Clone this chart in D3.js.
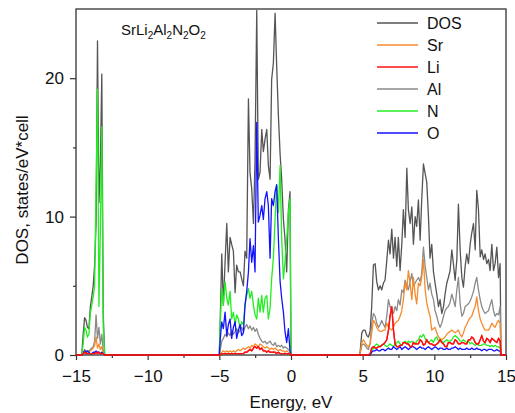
<!DOCTYPE html>
<html>
<head>
<meta charset="utf-8">
<script src="https://cdnjs.cloudflare.com/ajax/libs/d3/7.8.5/d3.min.js"></script>
<style>
  body { margin: 0; background: #fff; }
  svg { font-family: "Liberation Sans", Arial, Helvetica, sans-serif; }
</style>
</head>
<body>
<div id="chart"></div>
<script>
// energies (eV), split into the three bands that carry states
var energy1 = [-15, -14.7, -14.6, -14.5, -14.4, -14.3, -14.2, -14.1, -14.0, -13.9, -13.8, -13.7, -13.6, -13.5, -13.4, -13.3, -13.2, -13.1, -13.0];
var energy2 = [-5.0, -4.95, -4.83, -4.72, -4.60, -4.48, -4.37, -4.25, -4.14, -4.02, -3.90, -3.79, -3.67, -3.55, -3.44, -3.32, -3.21, -3.09, -2.97, -2.86,
  -2.74, -2.62, -2.51, -2.39, -2.28, -2.16, -2.04, -1.93, -1.81, -1.69, -1.58, -1.46, -1.35, -1.23, -1.11, -1.00, -0.88, -0.76, -0.65, -0.53,
  -0.42, -0.30, -0.18, -0.07, 0.0];
var energy3 = [4.75, 4.82, 4.94, 5.05, 5.17, 5.29, 5.40, 5.52, 5.63, 5.75, 5.87, 5.98, 6.10, 6.22, 6.33, 6.45, 6.56, 6.68, 6.80, 6.91,
  7.03, 7.15, 7.26, 7.38, 7.49, 7.61, 7.73, 7.84, 7.96, 8.08, 8.19, 8.31, 8.43, 8.54, 8.66, 8.77, 8.89, 9.01, 9.12, 9.24,
  9.36, 9.47, 9.59, 9.70, 9.82, 9.94, 10.05, 10.17, 10.29, 10.40, 10.52, 10.64, 10.75, 10.87, 10.98, 11.10, 11.22, 11.33, 11.45, 11.57,
  11.68, 11.80, 11.92, 12.03, 12.15, 12.26, 12.38, 12.50, 12.61, 12.73, 12.85, 12.96, 13.08, 13.20, 13.31, 13.43, 13.54, 13.66, 13.78, 13.89,
  14.01, 14.13, 14.24, 14.36, 14.48, 14.59, 14.65, 15];

// total DOS
var dos1 = [0, 0, 0, 1.5, 2.7, 2.5, 2.0, 1.9, 3.5, 4.2, 5.0, 6.5, 9.5, 22.7, 11, 13.8, 20.3, 3, 0];
var dos2 = [0, 2.0, 7.3, 3.6, 6.7, 9.5, 6.0, 8.5, 8.0, 7.5, 4.5, 6.5, 6.0, 6.0, 5.5, 5.0, 7.5, 7.0, 18.5, 13.2,
  12.0, 9.5, 14.0, 24.9, 12.7, 13.2, 16.3, 14.7, 15.6, 16.3, 13.7, 12.7, 19.9, 21.1, 24.7, 20.9, 17.3, 14.5, 12.7, 9.8,
  8.4, 6.0, 10.5, 11.8, 0];
var dos3 = [0, 0.2, 1.6, 1.8, 1.8, 1.4, 1.3, 1.7, 3.5, 6.5, 6.6, 5.3, 4.7, 5.0, 4.7, 5.2, 5.4, 6.8, 8.3, 7.3,
  9.1, 7.0, 8.5, 6.4, 8.5, 6.1, 8.0, 10.5, 8.5, 13.5, 10.5, 9.5, 10.7, 8.0, 10.0, 9.3, 11.2, 8.3, 11.2, 13.8,
  13.1, 12.5, 10.0, 7.0, 8.0, 6.0, 5.2, 4.4, 3.5, 4.0, 3.0, 3.5, 4.4, 5.2, 5.6, 6.1, 7.6, 6.6, 5.4, 6.9,
  10.9, 7.6, 5.6, 4.9, 6.4, 7.3, 6.6, 8.0, 8.8, 9.5, 7.6, 11.9, 10.5, 7.1, 7.6, 6.9, 7.3, 6.6, 6.9, 6.1,
  8.0, 6.1, 6.6, 7.8, 5.6, 6.6, 0, 0];

// Sr
var sr1 = [0, 0, 0, 0.1, 0.3, 0.2, 0.2, 0.2, 0.3, 0.4, 0.5, 0.7, 1.3, 0.5, 0.8, 0.4, 0.6, 0.1, 0];
var sr2 = [0, 0.1, 0.2, 0.3, 0.2, 0.3, 0.2, 0.3, 0.2, 0.3, 0.2, 0.3, 0.4, 0.3, 0.4, 0.5, 0.4, 0.5, 0.6, 0.5,
  0.7, 0.6, 0.8, 0.7, 0.6, 0.8, 0.7, 0.6, 0.5, 0.6, 0.5, 0.4, 0.5, 0.4, 0.5, 0.4, 0.3, 0.4, 0.3, 0.3,
  0.2, 0.3, 0.2, 0.1, 0];
var sr3 = [0, 0.1, 0.9, 1.1, 0.9, 0.7, 0.6, 0.8, 1.6, 2.5, 2.3, 2.0, 1.8, 1.7, 1.7, 1.8, 1.8, 2.3, 2.0, 1.9,
  1.8, 2.0, 2.3, 2.4, 2.5, 2.8, 3.2, 4.0, 5.2, 4.7, 6.1, 5.2, 4.0, 5.6, 4.4, 3.7, 5.2, 5.0, 5.6, 6.9,
  4.7, 3.8, 3.2, 2.8, 1.8, 1.9, 2.0, 1.6, 1.3, 1.2, 1.1, 1.2, 1.3, 1.5, 1.6, 1.7, 1.8, 1.7, 1.6, 1.7,
  1.8, 1.5, 1.3, 1.6, 2.0, 2.2, 2.5, 2.7, 2.8, 3.2, 3.5, 4.2, 3.2, 2.6, 2.3, 2.0, 1.8, 1.8, 1.8, 2.0,
  2.3, 2.1, 2.0, 2.3, 2.5, 2.3, 0, 0];

// Li
var li1 = [0, 0, 0, 0.1, 0.2, 0.1, 0.1, 0.1, 0.1, 0.1, 0.1, 0.1, 0.2, 0.1, 0.2, 0.1, 0.1, 0.1, 0];
var li2 = [0, 0, 0.1, 0.1, 0.1, 0.1, 0.1, 0.1, 0.1, 0.1, 0.1, 0.1, 0.1, 0.1, 0.1, 0.1, 0.2, 0.2, 0.3, 0.4,
  0.3, 0.5, 0.6, 0.5, 0.6, 0.4, 0.5, 0.3, 0.3, 0.2, 0.3, 0.2, 0.2, 0.2, 0.2, 0.1, 0.2, 0.1, 0.1, 0.1,
  0.1, 0.1, 0.1, 0.1, 0];
var li3 = [0, 0, 0, 0, 0, 0, 0, 0.1, 0.5, 0.6, 0.5, 0.5, 0.6, 0.6, 0.7, 0.8, 0.9, 1.1, 1.8, 2.8,
  3.5, 1.8, 0.8, 0.6, 0.6, 0.7, 0.7, 0.9, 0.9, 0.8, 0.8, 0.6, 0.6, 0.9, 0.8, 0.8, 0.8, 1.1, 1.0, 0.7,
  0.8, 1.1, 0.9, 0.8, 0.8, 0.7, 0.7, 0.8, 0.9, 1.1, 0.9, 0.8, 0.6, 0.6, 0.9, 0.9, 0.8, 0.8, 1.1, 1.0,
  0.8, 0.8, 0.9, 0.9, 0.8, 0.8, 1.1, 1.1, 1.3, 1.2, 0.9, 0.8, 0.8, 1.1, 1.4, 1.0, 0.9, 1.2, 1.1, 0.9,
  1.2, 1.1, 1.0, 0.9, 1.2, 1.0, 0, 0];

// Al
var al1 = [0, 0, 0, 0.2, 0.4, 0.3, 0.3, 0.3, 0.4, 0.5, 0.6, 1.0, 2.9, 1.2, 2.0, 0.8, 1.5, 0.3, 0];
var al2 = [0, 0.3, 1.0, 1.2, 1.5, 1.3, 1.6, 1.4, 1.8, 1.5, 1.7, 1.9, 1.6, 1.8, 2.0, 1.7, 2.0, 2.2, 1.9, 2.1,
  1.8, 2.0, 1.7, 1.9, 1.5, 1.2, 1.0, 0.9, 1.0, 0.8, 0.9, 1.0, 0.8, 0.7, 0.9, 0.6, 0.7, 0.6, 0.7, 0.5,
  0.6, 0.5, 0.4, 0.3, 0];
var al3 = [0, 0.1, 0.7, 0.8, 0.7, 0.5, 0.4, 0.8, 2.3, 3.0, 2.8, 2.3, 2.0, 2.2, 2.5, 2.2, 2.0, 2.8, 4.0, 3.5,
  3.2, 3.0, 3.5, 3.2, 4.0, 3.6, 4.7, 4.5, 5.4, 5.0, 4.7, 5.3, 5.9, 5.0, 5.2, 5.4, 5.6, 5.3, 5.9, 7.8,
  6.4, 5.6, 4.7, 5.2, 4.4, 4.0, 3.2, 2.8, 2.3, 2.0, 2.3, 2.8, 3.2, 3.4, 3.5, 3.8, 4.4, 4.0, 3.5, 4.7,
  5.6, 3.7, 2.8, 3.0, 3.5, 3.6, 3.7, 3.9, 4.2, 4.6, 5.2, 5.6, 4.7, 4.0, 3.5, 3.2, 3.0, 3.1, 3.2, 3.6,
  4.0, 3.2, 2.8, 3.0, 2.9, 3.5, 0, 0];

// N
var n1 = [0, 0, 0, 0.8, 2.0, 1.8, 1.3, 1.5, 3.0, 3.6, 4.2, 5.0, 12, 19.2, 3.5, 9, 16.5, 2, 0];
var n2 = [0, 2.0, 4.8, 3.6, 5.3, 4.1, 3.6, 4.6, 2.6, 3.1, 2.2, 2.9, 2.6, 1.9, 2.4, 2.2, 3.6, 4.3, 4.8, 4.1,
  4.6, 3.6, 2.9, 2.6, 4.1, 3.1, 4.3, 3.1, 4.1, 4.3, 2.6, 3.4, 5.5, 7.0, 9.8, 12.3, 10.3, 13.7, 8.4, 5.5,
  6.7, 8.4, 10.3, 11.3, 0];
var n3 = [0, 0, 0, 0, 0, 0, 0, 0, 0.3, 0.5, 0.7, 0.8, 0.7, 0.6, 0.7, 0.8, 0.7, 0.6, 0.7, 0.8,
  0.7, 0.6, 0.8, 0.9, 1.0, 0.8, 0.7, 0.9, 1.0, 0.8, 1.0, 0.9, 1.0, 0.9, 0.8, 1.0, 1.1, 1.4, 1.3, 1.5,
  1.2, 1.0, 0.9, 1.0, 1.1, 0.9, 1.2, 1.3, 1.0, 1.1, 1.0, 0.9, 1.0, 1.1, 1.0, 1.0, 1.1, 1.3, 1.4, 1.3,
  1.2, 1.0, 1.0, 1.1, 1.0, 0.9, 1.0, 0.8, 0.9, 0.8, 0.7, 0.8, 0.7, 0.7, 0.7, 0.8, 0.8, 0.7, 0.7, 0.6,
  0.7, 0.6, 0.7, 0.6, 0.6, 0.5, 0, 0];

// O
var o1 = [0, 0, 0, 0.1, 0.3, 0.2, 0.3, 0.2, 0.1, 0.1, 0.2, 0.2, 0.3, 0.2, 0.2, 0.1, 0.2, 0.1, 0];
var o2 = [0, 1.0, 2.4, 1.9, 3.1, 1.4, 2.2, 2.6, 1.2, 2.0, 2.4, 1.2, 1.8, 2.2, 1.4, 1.6, 3.6, 4.6, 6.0, 8.4,
  6.7, 7.9, 6.0, 16.8, 9.6, 10.1, 10.8, 9.8, 11.3, 11.8, 10.8, 7.0, 11.3, 10.8, 11.8, 12.3, 8.4, 5.3, 4.1, 3.1,
  1.7, 0.9, 1.9, 0.3, 0];
var o3 = [0, 0, 0, 0, 0, 0, 0, 0, 0.2, 0.3, 0.3, 0.4, 0.3, 0.3, 0.4, 0.4, 0.3, 0.4, 0.5, 0.4,
  0.4, 0.6, 0.5, 0.4, 0.5, 0.6, 0.4, 0.5, 0.6, 0.5, 0.4, 0.5, 0.6, 0.6, 0.5, 0.4, 0.5, 0.6, 0.5, 0.5,
  0.4, 0.5, 0.6, 0.5, 0.4, 0.5, 0.6, 0.5, 0.4, 0.5, 0.5, 0.4, 0.4, 0.5, 0.4, 0.4, 0.5, 0.5, 0.6, 0.5,
  0.4, 0.5, 0.4, 0.4, 0.4, 0.5, 0.4, 0.4, 0.5, 0.4, 0.4, 0.5, 0.4, 0.4, 0.3, 0.4, 0.4, 0.3, 0.4, 0.4,
  0.4, 0.3, 0.3, 0.4, 0.3, 0.3, 0, 0];

var legendNames = ["DOS", "Sr", "Li", "Al", "N", "O"];
var xTicks = [-15, -10, -5, 0, 5, 10, 15];
var xMinorTicks = [-12.5, -7.5, -2.5, 2.5, 7.5, 12.5];
var yTicks = [0, 10, 20];
var yMinorTicks = [5, 15];

var colors = {
  DOS: "#555555",
  Sr: "#f68b2c",
  Li: "#ff1010",
  Al: "#8a8a8a",
  N: "#22ee22",
  O: "#1212ff"
};

var energy = energy1.concat(energy2, energy3);
var seriesData = {
  DOS: dos1.concat(dos2, dos3),
  Sr: sr1.concat(sr2, sr3),
  Li: li1.concat(li2, li3),
  Al: al1.concat(al2, al3),
  N: n1.concat(n2, n3),
  O: o1.concat(o2, o3)
};

legendNames.forEach(function(k) {
  if (seriesData[k].length !== energy.length) {
    throw new Error(k + " length " + seriesData[k].length + " vs " + energy.length);
  }
});

var margin = { top: 9, right: 9, bottom: 58, left: 76 };
var chartWidth = 515 - margin.left - margin.right;
var chartHeight = 413 - margin.top - margin.bottom;

var svg = d3
  .select("#chart")
  .append("svg")
  .attr("width", 515)
  .attr("height", 413);

var g = svg
  .append("g")
  .attr("transform", "translate(" + margin.left + "," + margin.top + ")");

var xScale = d3.scaleLinear().domain([-15, 15]).range([0, chartWidth]);
var yScale = d3.scaleLinear().domain([0, 25]).range([chartHeight, 0]);

var minus = function(d) {
  return d < 0 ? "\u2212" + Math.abs(d) : String(d);
};

// axes
var xAxis = d3.axisBottom(xScale).tickValues(xTicks).tickSize(5).tickPadding(10).tickFormat(minus);
var xMinor = d3.axisBottom(xScale).tickValues(xMinorTicks).tickSize(3).tickFormat("");
var yAxis = d3.axisLeft(yScale).tickValues(yTicks).tickSize(6).tickPadding(6);
var yMinor = d3.axisLeft(yScale).tickValues(yMinorTicks).tickSize(3).tickFormat("");

[
  [xAxis, "translate(0," + chartHeight + ")"],
  [xMinor, "translate(0," + chartHeight + ")"],
  [yAxis, null],
  [yMinor, null]
].forEach(function(a) {
  var ax = g.append("g").call(a[0]);
  if (a[1]) ax.attr("transform", a[1]);
  ax.select(".domain").remove();
  ax.selectAll("line").attr("stroke", "#333").attr("stroke-width", 1.2);
  ax.selectAll("text").attr("fill", "#111").style("font-size", "17px").style("font-family", "Liberation Sans, Arial, sans-serif");
});

// lines
var line = d3
  .line()
  .x(function(d) { return xScale(d[0]); })
  .y(function(d) { return yScale(d[1]); });

var drawOrder = ["DOS", "Al", "Sr", "N", "O", "Li"];
drawOrder.forEach(function(k) {
  var pts = energy.map(function(e, i) { return [e, seriesData[k][i]]; });
  g.append("path")
    .datum(pts)
    .attr("d", line)
    .attr("fill", "none")
    .attr("stroke", colors[k])
    .attr("stroke-width", 1.3)
    .attr("stroke-linejoin", "round");
});

// frame
g.append("rect")
  .attr("x", 0)
  .attr("y", 0)
  .attr("width", chartWidth)
  .attr("height", chartHeight)
  .attr("fill", "none")
  .attr("stroke", "#333")
  .attr("stroke-width", 1.3);

// redraw Li on top of the bottom frame line, like the reference
g.append("path")
  .datum(energy.map(function(e, i) { return [e, seriesData.Li[i]]; }))
  .attr("d", line)
  .attr("fill", "none")
  .attr("stroke", colors.Li)
  .attr("stroke-width", 1.3);

// compound label
var title = g.append("text")
  .attr("x", 45)
  .attr("y", 30)
  .style("font-size", "15px")
  .attr("fill", "#111");
[["SrLi", false], ["2", true], ["Al", false], ["2", true], ["N", false], ["2", true], ["O", false], ["2", true]].forEach(function(p) {
  title.append("tspan")
    .text(p[0])
    .attr("dy", p[1] ? 4 : (title.selectAll("tspan").size() > 0 ? -4 : 0))
    .style("font-size", p[1] ? "10px" : "15px");
});

// legend
var legend = svg.append("g");
legendNames.forEach(function(k, i) {
  var y = 23 + i * 22;
  legend.append("line")
    .attr("x1", 377).attr("x2", 418)
    .attr("y1", y).attr("y2", y)
    .attr("stroke", colors[k])
    .attr("stroke-width", 1.5);
  legend.append("text")
    .attr("x", 427)
    .attr("y", y)
    .attr("dy", "0.36em")
    .style("font-size", "16px")
    .attr("fill", "#111")
    .text(k);
});

// axis titles
svg.append("text")
  .attr("transform", "translate(22," + (margin.top + chartHeight / 2 + 8) + ") rotate(-90)")
  .attr("text-anchor", "middle")
  .attr("dy", "0.36em")
  .style("font-size", "17px")
  .attr("fill", "#111")
  .text("DOS, states/eV*cell");

svg.append("text")
  .attr("x", margin.left + chartWidth / 2)
  .attr("y", 408)
  .attr("text-anchor", "middle")
  .style("font-size", "17px")
  .attr("fill", "#111")
  .text("Energy, eV");
</script>
</body>
</html>
